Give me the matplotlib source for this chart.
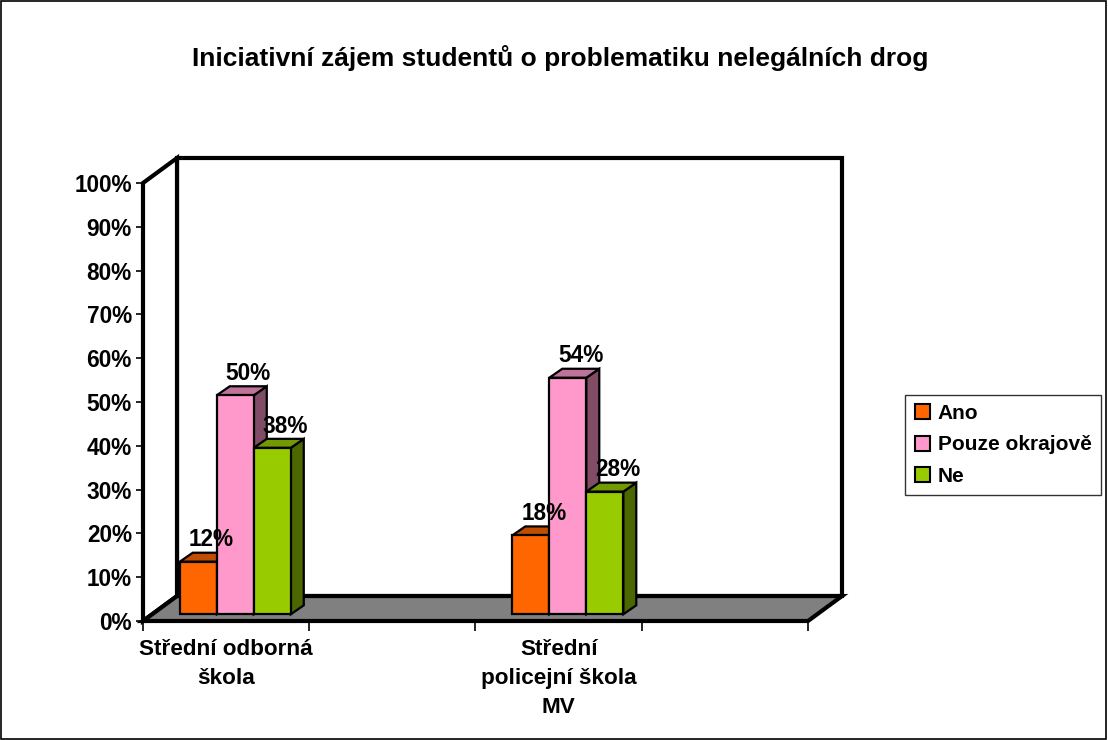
import matplotlib.pyplot as plt
from matplotlib.patches import Polygon, Patch

# data
categories = ["Střední odborná\nškola", "", "Střední\npolicejní škola\nMV", ""]
series = ["Ano", "Pouze okrajově", "Ne"]
values = {
    "Ano": [12, None, 18, None],
    "Pouze okrajově": [50, None, 54, None],
    "Ne": [38, None, 28, None],
}
front_colors = {"Ano": "#FF6600", "Pouze okrajově": "#FF99CC", "Ne": "#99CC00"}
top_colors = {"Ano": "#C04D00", "Pouze okrajově": "#BF7399", "Ne": "#739900"}
side_colors = {"Ano": "#803300", "Pouze okrajově": "#804C66", "Ne": "#4C6600"}
yticks = list(range(0, 101, 10))

plt.rcParams['font.family'] = ['Liberation Sans', 'DejaVu Sans']

fig = plt.figure(figsize=(11.08, 7.40), dpi=100)
W, H = 1108, 740
ax = fig.add_axes([143 / W, (H - 621) / H, (808 - 143) / W, (621 - 183) / H])
ax.set_xlim(0, len(categories))
ax.set_ylim(0, 100)
for s in ax.spines.values():
    s.set_visible(False)
ax.patch.set_visible(False)

# depth of the 3d box in data units
DX, DY = 0.2045, 5.7
LW = 3.0

def poly(pts, fc, lw=LW, z=1):
    ax.add_patch(Polygon(pts, closed=True, facecolor=fc, edgecolor="black",
                         linewidth=lw, joinstyle="miter", clip_on=False, zorder=z))

n = len(categories)
# back wall, left wall, floor
poly([(DX, DY), (DX, 100 + DY), (n + DX, 100 + DY), (n + DX, DY)], "white")
poly([(0, 0), (0, 100), (DX, 100 + DY), (DX, DY)], "white")
poly([(0, 0), (DX, DY), (n + DX, DY), (n, 0)], "#808080")

# bars
bw = 0.2226
f0 = 0.27
bdx, bdy = 0.078, 2.05
for i in range(n):
    start = i + 0.5 - 1.5 * bw + f0 * DX
    base = f0 * DY
    for k, name in enumerate(series):
        v = values[name][i]
        if v is None:
            continue
        x0 = start + k * bw
        x1 = x0 + bw
        top = base + v
        lw = 1.6
        poly([(x1, base), (x1, top), (x1 + bdx, top + bdy), (x1 + bdx, base + bdy)],
             side_colors[name], lw, 3)
        poly([(x0, top), (x0 + bdx, top + bdy), (x1 + bdx, top + bdy), (x1, top)],
             top_colors[name], lw, 3)
        poly([(x0, base), (x0, top), (x1, top), (x1, base)], front_colors[name], lw, 3)
        ax.text((x0 + x1) / 2 + bdx, top + bdy + 0.3, f"{v}%", ha="center", va="bottom",
                fontsize=16.3, fontweight="bold", zorder=5)

# axes ticks
ax.set_yticks(yticks)
ax.set_yticklabels([f"{t}%" for t in yticks], fontsize=16.3, fontweight="bold")
ax.tick_params(axis="y", length=5, width=1.2, pad=3)
ax.set_xticks(range(n + 1))
ax.set_xticklabels([])
ax.tick_params(axis="x", which="major", length=7, width=1.2)
ax.set_xticks([i + 0.5 for i in range(n)], minor=True)
ax.set_xticklabels(categories, minor=True, fontsize=16.2, fontweight="bold", linespacing=1.5)
ax.tick_params(axis="x", which="minor", length=0, pad=13)

fig.text(560 / W, 1 - 58 / H, "Iniciativní zájem studentů o problematiku nelegálních drog",
         ha="center", va="center", fontsize=19, fontweight="bold")

handles = [Patch(facecolor=front_colors[s], edgecolor="black", linewidth=1.5) for s in series]
leg = fig.legend(handles, series, loc="center", bbox_to_anchor=(1003 / W, 1 - 445 / H),
                 prop={"weight": "bold", "size": 15.0}, frameon=True,
                 fancybox=False, edgecolor="black", handlelength=0.75, handleheight=0.75,
                 handletextpad=0.35, labelspacing=0.6, borderpad=0.45, borderaxespad=0)
leg.get_frame().set_linewidth(1.0)

fig.patches.append(plt.Rectangle((0.0005, 0.001), 0.998, 0.998, transform=fig.transFigure,
                                 fill=False, edgecolor="black", linewidth=1.2))

fig.savefig("out.png", dpi=100)
